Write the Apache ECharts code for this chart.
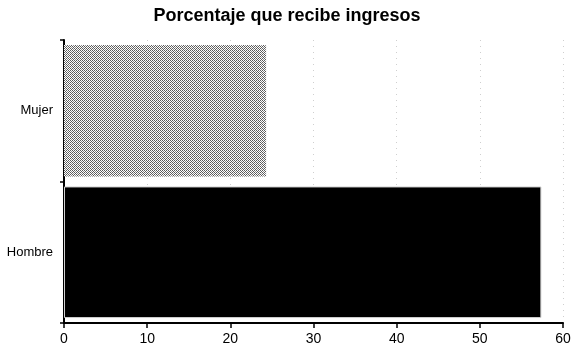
<!DOCTYPE html>
<html>
<head>
<meta charset="utf-8">
<script src="https://cdn.jsdelivr.net/npm/echarts@6/dist/echarts.min.js"></script>
<style>
html,body{margin:0;padding:0;background:#fff;}
#chart{width:574px;height:361px;}
</style>
</head>
<body>
<div id="chart"></div>
<script>
// Categories listed bottom to top (category axis on y runs upward)
const categories = ['Hombre', 'Mujer'];
const values = [57.4, 24.3];
const xTicks = [0, 10, 20, 30, 40, 50, 60];
const titleText = 'Porcentaje que recibe ingresos';

// Stippled grey fill for the women's bar
function stipple() {
  const c = document.createElement('canvas');
  c.width = 4; c.height = 4;
  const g = c.getContext('2d');
  g.fillStyle = '#ffffff';
  g.fillRect(0, 0, 4, 4);
  g.fillStyle = '#5a5a5a';
  const dots = [[0,0],[2,0],[1,1],[3,1],[0,2],[2,2],[1,3],[3,3]];
  dots.forEach(function (d) { g.fillRect(d[0], d[1], 1, 1); });
  g.fillStyle = '#8a8a8a';
  g.fillRect(1, 1, 1, 1);
  g.fillRect(3, 3, 1, 1);
  return c;
}

const font = 'Liberation Sans, Arial, sans-serif';
const chart = echarts.init(document.getElementById('chart'), null, {renderer: 'canvas'});
chart.setOption({
  animation: false,
  backgroundColor: '#ffffff',
  title: {
    text: titleText,
    left: 'center',
    top: 2,
    textStyle: {fontFamily: font, fontSize: 18, fontWeight: 'bold', color: '#000'}
  },
  grid: {left: 64, right: 11, top: 40, bottom: 38},
  xAxis: {
    type: 'value',
    min: xTicks[0],
    max: xTicks[xTicks.length - 1],
    interval: 10,
    axisLine: {show: true, lineStyle: {color: '#000', width: 2}},
    axisTick: {show: true, length: 5, lineStyle: {color: '#000', width: 1.5}},
    axisLabel: {color: '#000', fontSize: 14, fontFamily: font, margin: 9},
    splitLine: {show: true, lineStyle: {color: '#cfcfcf', width: 1, type: [1, 5]}}
  },
  yAxis: {
    type: 'category',
    data: categories,
    axisLine: {show: true, lineStyle: {color: '#000', width: 2}},
    axisTick: {show: true, length: 4, lineStyle: {color: '#000', width: 1.5}},
    axisLabel: {color: '#000', fontSize: 13, fontFamily: font, margin: 11},
    splitLine: {show: false}
  },
  series: [{
    type: 'bar',
    barWidth: '93%',
    data: values.map(function (v, i) {
      return {
        value: v,
        itemStyle: i === 1
          ? {color: {image: stipple(), repeat: 'repeat'}}
          : {color: '#000000', borderColor: '#d0d0d0', borderWidth: 1}
      };
    })
  }]
});
</script>
</body>
</html>
